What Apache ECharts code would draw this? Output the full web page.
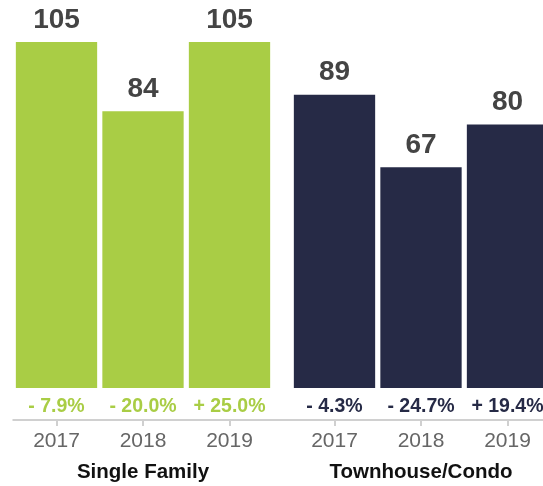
<!DOCTYPE html>
<html>
<head>
<meta charset="utf-8">
<script src="https://cdn.jsdelivr.net/npm/echarts@6/dist/echarts.min.js"></script>
<style>
  html, body { margin: 0; padding: 0; background: #fff; }
  #chart { width: 543px; height: 486px; }
</style>
</head>
<body>
<div id="chart"></div>
<script>
var years = ['2017', '2018', '2019'];
var singleFamily = [105, 84, 105];
var townhouse = [89, 67, 80];
var singleChange = ['- 7.9%', '- 20.0%', '+ 25.0%'];
var townChange = ['- 4.3%', '- 24.7%', '+ 19.4%'];
var groupNames = ['Single Family', 'Townhouse/Condo'];

var green = '#a9cd45';
var navy = '#262a46';
var font = '"Liberation Sans", Arial, Helvetica, sans-serif';

var myChart = echarts.init(document.getElementById('chart'));

function xAxisFor(idx, name) {
    return {
        type: 'category',
        gridIndex: idx,
        data: years,
        axisLine: { show: false, onZero: false },
        axisTick: {
            show: true,
            alignWithLabel: true,
            length: 6,
            lineStyle: { color: '#d0d0d0', width: 2 }
        },
        axisLabel: {
            margin: 11,
            color: '#666',
            fontSize: 21,
            fontFamily: font
        },
        name: name,
        nameLocation: 'middle',
        nameGap: 42,
        nameTextStyle: {
            color: '#111',
            fontSize: 20.5,
            fontWeight: 'bold',
            fontFamily: font
        }
    };
}

function yAxisFor(idx) {
    return { type: 'value', gridIndex: idx, min: -9.7, max: 105, show: false };
}

function barsFor(idx, values, changes, color) {
    return [{
        type: 'bar',
        xAxisIndex: idx,
        yAxisIndex: idx,
        data: values,
        barCategoryGap: '6%',
        barGap: '-100%',
        itemStyle: { color: color },
        label: {
            show: true,
            position: 'top',
            distance: 8,
            color: '#444',
            fontSize: 28,
            fontWeight: 'bold',
            fontFamily: font
        }
    }, {
        type: 'bar',
        xAxisIndex: idx,
        yAxisIndex: idx,
        data: values,
        barCategoryGap: '6%',
        barGap: '-100%',
        silent: true,
        itemStyle: { color: 'rgba(0,0,0,0)' },
        label: {
            show: true,
            position: 'bottom',
            distance: 9,
            color: color,
            fontSize: 19.5,
            fontWeight: 'bold',
            fontFamily: font,
            formatter: function (p) { return changes[p.dataIndex]; }
        }
    }];
}

var option = {
    backgroundColor: '#fff',
    animation: false,
    grid: [
        { left: 13.25, width: 259.5, top: 42, bottom: 66, outerBoundsMode: 'none' },
        { left: 291.25, width: 259.5, top: 42, bottom: 66, outerBoundsMode: 'none' },
        // full-width baseline
        { left: 13.25, right: 0, top: 42, bottom: 66, outerBoundsMode: 'none' }
    ],
    xAxis: [
        xAxisFor(0, groupNames[0]),
        xAxisFor(1, groupNames[1]),
        {
            type: 'value',
            gridIndex: 2,
            min: 0,
            max: 1,
            axisLine: { show: true, onZero: false, lineStyle: { color: '#d0d0d0', width: 2 } },
            axisTick: { show: false },
            axisLabel: { show: false },
            splitLine: { show: false }
        }
    ],
    yAxis: [
        yAxisFor(0),
        yAxisFor(1),
        { type: 'value', gridIndex: 2, show: false }
    ],
    series: barsFor(0, singleFamily, singleChange, green)
        .concat(barsFor(1, townhouse, townChange, navy))
};

myChart.setOption(option);
</script>
</body>
</html>
